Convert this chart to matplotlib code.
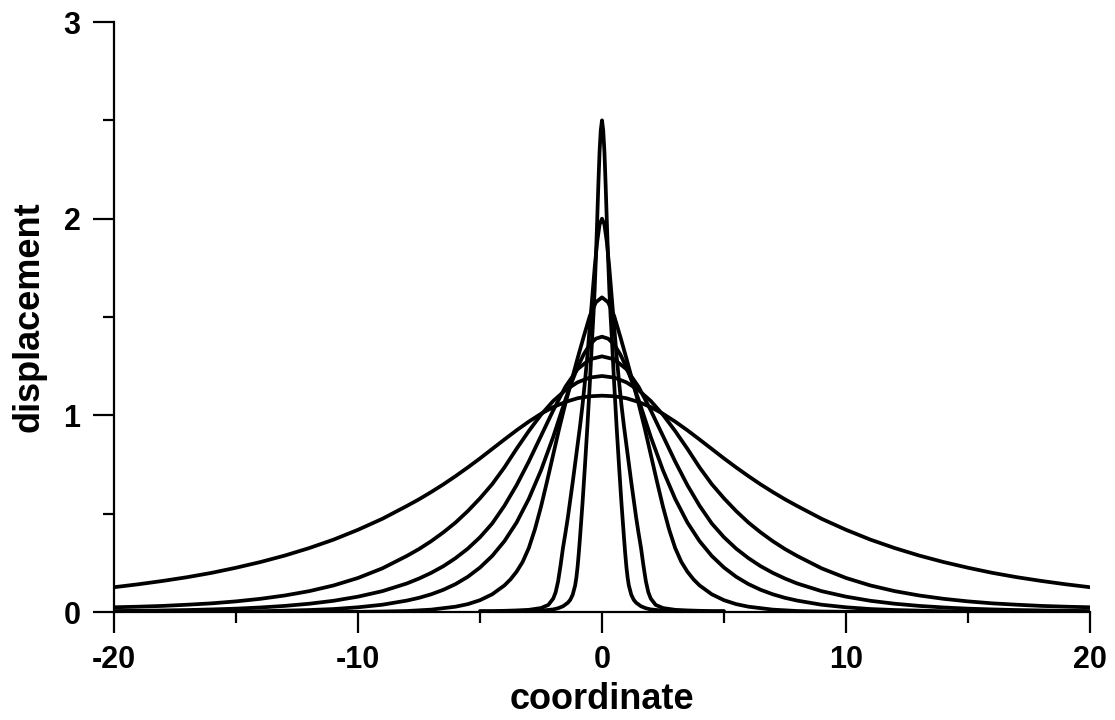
import numpy as np
import matplotlib
matplotlib.use("Agg")
import matplotlib.pyplot as plt
from matplotlib.ticker import MultipleLocator

plt.rcParams['font.family'] = ['Liberation Sans', 'DejaVu Sans']
plt.rcParams['font.weight'] = 'bold'
plt.rcParams['axes.unicode_minus'] = False

# half profiles (x >= 0); the curves are symmetric about 0
xa = [0, 0.5, 1, 1.5, 2, 2.5, 3, 3.5, 4, 4.5, 5, 5.5, 6, 6.5, 7, 7.5, 8, 9, 10,
      11, 12, 13, 14, 15, 16, 17, 18, 19, 20]
ya = [1.100, 1.097, 1.087, 1.068, 1.042, 1.008, 0.968, 0.924, 0.877, 0.829,
      0.781, 0.735, 0.691, 0.649, 0.610, 0.573, 0.539, 0.474, 0.418, 0.368,
      0.325, 0.287, 0.254, 0.225, 0.199, 0.177, 0.158, 0.141, 0.126]

xb = [0, 0.5, 1, 1.5, 2, 2.5, 3, 3.5, 4, 4.5, 5, 5.5, 6, 6.5, 7, 7.5, 8, 9, 10,
      11, 12, 13, 14, 15, 16, 17, 18, 19, 20]
yb = [1.200, 1.192, 1.168, 1.128, 1.073, 1.003, 0.920, 0.830, 0.735, 0.650,
      0.578, 0.513, 0.455, 0.405, 0.360, 0.320, 0.285, 0.222, 0.173, 0.135,
      0.106, 0.084, 0.067, 0.054, 0.044, 0.037, 0.031, 0.027, 0.024]

xc = [0, 0.5, 1, 1.5, 2, 2.5, 3, 3.5, 4, 4.5, 5, 5.5, 6, 6.5, 7, 7.5, 8, 9, 10,
      11, 12, 13, 14, 15, 16, 17, 18, 19, 20]
yc = [1.300, 1.285, 1.235, 1.145, 1.025, 0.895, 0.765, 0.645, 0.540, 0.450,
      0.380, 0.322, 0.274, 0.233, 0.199, 0.170, 0.145, 0.106, 0.078, 0.057,
      0.042, 0.031, 0.023, 0.017, 0.013, 0.010, 0.008, 0.006, 0.005]

xd = [0, 0.25, 0.5, 0.75, 1, 1.25, 1.5, 1.75, 2, 2.5, 3, 3.5, 4, 4.5, 5, 5.5, 6,
      6.5, 7, 7.5, 8, 9, 10, 11, 12, 14, 16, 18, 20]
yd = [1.400, 1.390, 1.360, 1.310, 1.245, 1.165, 1.080, 0.985, 0.890, 0.720,
      0.575, 0.455, 0.360, 0.285, 0.226, 0.179, 0.142, 0.113, 0.090, 0.072,
      0.058, 0.037, 0.024, 0.015, 0.010, 0.004, 0.002, 0.001, 0.0005]

xe = [0, 0.25, 0.5, 0.75, 1, 1.25, 1.5, 1.75, 2, 2.25, 2.5, 2.75, 3, 3.25, 3.5,
      3.75, 4, 4.5, 5, 5.5, 6, 7, 8, 9, 10, 12, 20]
ye = [1.600, 1.575, 1.505, 1.400, 1.290, 1.175, 1.060, 0.935, 0.800, 0.665,
      0.535, 0.420, 0.325, 0.255, 0.205, 0.166, 0.135, 0.090, 0.060, 0.040,
      0.027, 0.012, 0.005, 0.0025, 0.001, 0.0003, 0.0]

xf = [0, 0.1, 0.2, 0.3, 0.4, 0.5, 0.6, 0.7, 0.8, 0.9, 1.0, 1.1, 1.2, 1.3, 1.4,
      1.5, 1.6, 1.7, 1.8, 1.9, 2.0, 2.2, 2.5, 3, 3.5, 4, 4.5, 5]
yf = [2.00, 1.97, 1.88, 1.75, 1.60, 1.45, 1.30, 1.17, 1.05, 0.945, 0.85, 0.755,
      0.66, 0.57, 0.48, 0.40, 0.325, 0.235, 0.155, 0.10, 0.068, 0.036, 0.020,
      0.011, 0.008, 0.006, 0.005, 0.005]

xg = [0, 0.05, 0.1, 0.15, 0.2, 0.25, 0.3, 0.35, 0.4, 0.5, 0.6, 0.7, 0.8, 0.9,
      0.95, 1.0, 1.05, 1.1, 1.2, 1.3, 1.4, 1.6, 1.8, 2.0, 2.5, 3, 3.5, 4]
yg = [2.50, 2.45, 2.34, 2.17, 1.98, 1.80, 1.64, 1.51, 1.40, 1.16, 0.94, 0.74,
      0.55, 0.38, 0.30, 0.23, 0.175, 0.135, 0.088, 0.062, 0.047, 0.029, 0.019,
      0.013, 0.007, 0.004, 0.002, 0.001]

profiles = [(xa, ya), (xb, yb), (xc, yc), (xd, yd), (xe, ye), (xf, yf), (xg, yg)]

fig = plt.figure(figsize=(11.15, 7.2), dpi=100)
ax = fig.add_axes([0.1022, 0.15, 0.8754, 0.8194])

for hx, hy in profiles:
    hx = np.asarray(hx)
    hy = np.asarray(hy)
    x = np.concatenate([-hx[::-1], hx[1:]])
    y = np.concatenate([hy[::-1], hy[1:]])
    ax.plot(x, y, color='black', lw=2.7, solid_joinstyle='round',
            solid_capstyle='round')

ax.set_xlim(-20, 20)
ax.set_ylim(0, 3)
ax.xaxis.set_major_locator(MultipleLocator(10))
ax.xaxis.set_minor_locator(MultipleLocator(5))
ax.yaxis.set_major_locator(MultipleLocator(1))
ax.yaxis.set_minor_locator(MultipleLocator(0.5))

for s in ['top', 'right']:
    ax.spines[s].set_visible(False)
for s in ['left', 'bottom']:
    ax.spines[s].set_linewidth(1.6)

ax.tick_params(which='major', direction='out', length=15, width=1.6,
               labelsize=22, pad=9)
ax.tick_params(which='minor', direction='out', length=8, width=1.6)

ax.set_xlabel('coordinate', fontsize=26, fontweight='bold', labelpad=5)
ax.set_ylabel('displacement', fontsize=26, fontweight='bold', labelpad=12)

fig.savefig('out.png', dpi=100)
